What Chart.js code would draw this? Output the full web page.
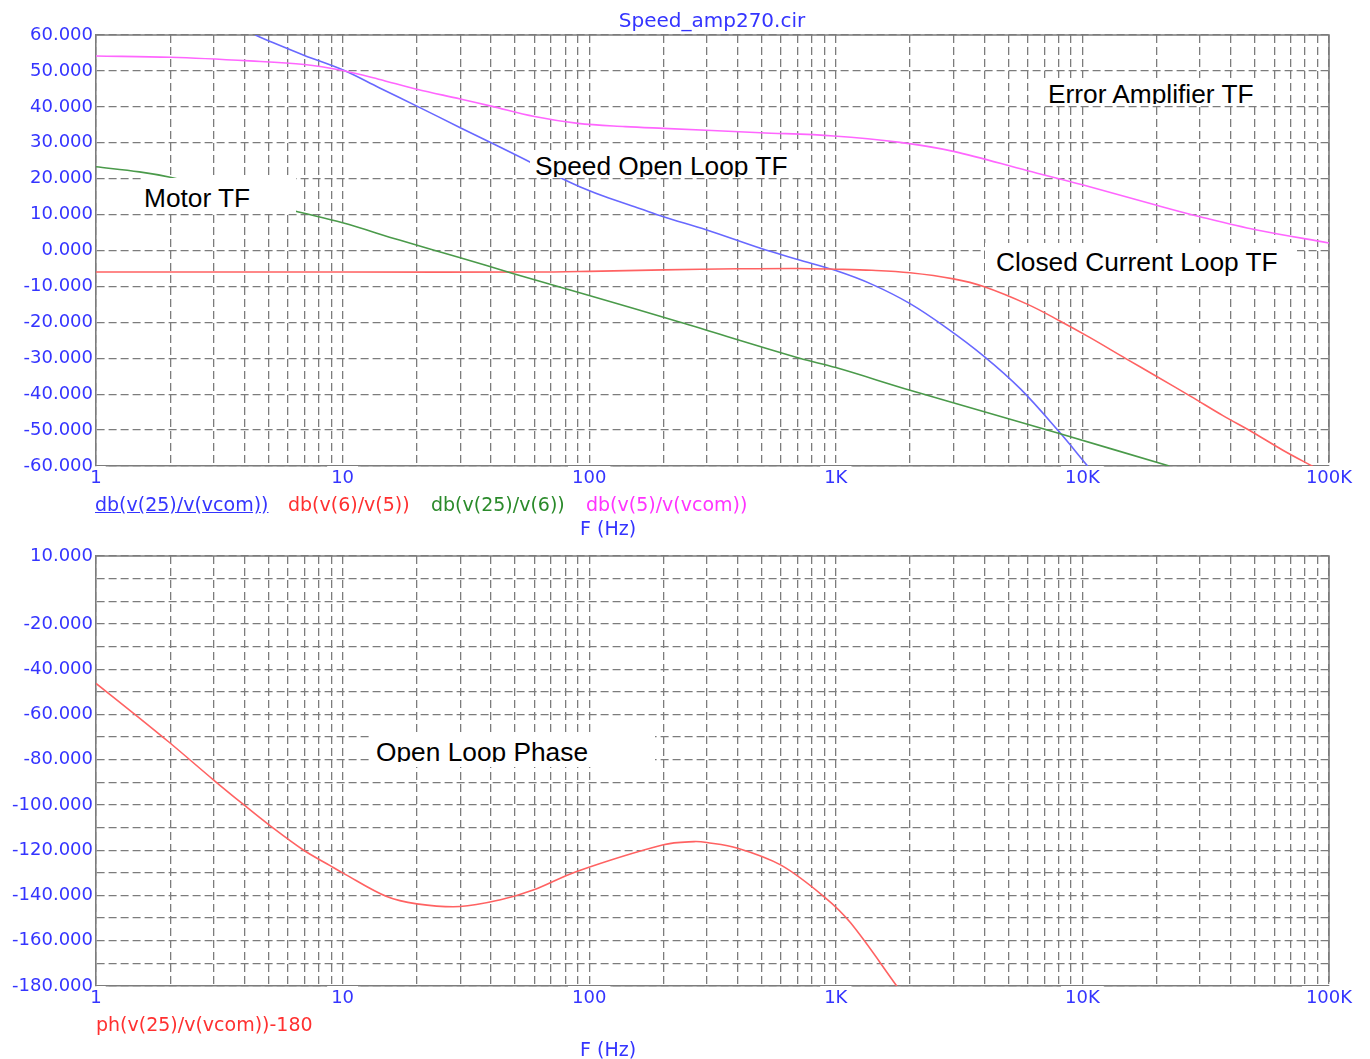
<!DOCTYPE html>
<html>
<head>
<meta charset="utf-8">
<title>Speed_amp270.cir</title>
<script src="https://cdn.jsdelivr.net/npm/chart.js@4.4.1/dist/chart.umd.min.js"></script>
<style>
  body { margin: 0; background: #fff; width: 1370px; height: 1059px; position: relative; overflow: hidden; font-family: "DejaVu Sans", sans-serif; }
  canvas { position: absolute; left: 0; }
  #magPlot { top: 0; }
  #phasePlot { top: 540px; }
  .lbl { position: absolute; font-size: 19px; line-height: 19px; white-space: nowrap; }
  .box { position: absolute; background: #fff; }
  .clip { position: absolute; overflow: hidden; }
  .clip span { position: absolute; font-family: "Liberation Sans", Arial, sans-serif; font-size: 26.3px; line-height: 26.3px; color: #000; white-space: nowrap; }
</style>
</head>
<body>
<canvas id="magPlot" width="1370" height="540"></canvas>
<canvas id="phasePlot" width="1370" height="519"></canvas>

<div class="lbl" style="left:712px;top:10px;font-size:20px;line-height:20px;color:#3434ff;transform:translateX(-50%)">Speed_amp270.cir</div>

<div class="lbl" style="left:95px;top:495px;color:#3434ff;text-decoration:underline">db(v(25)/v(vcom))</div>
<div class="lbl" style="left:288px;top:495px;color:#ff3030">db(v(6)/v(5))</div>
<div class="lbl" style="left:431px;top:495px;color:#2a8a2a">db(v(25)/v(6))</div>
<div class="lbl" style="left:586px;top:495px;color:#ff33ff">db(v(5)/v(vcom))</div>
<div class="lbl" style="left:580px;top:519px;color:#3434ff">F (Hz)</div>

<div class="lbl" style="left:96px;top:1015px;color:#ff3030">ph(v(25)/v(vcom))-180</div>
<div class="lbl" style="left:580px;top:1040px;color:#3434ff">F (Hz)</div>

<!-- white label boxes laid over the plots -->
<div class="box" style="left:142px;top:178px;width:154px;height:36px"></div>
<div class="clip" style="left:142px;top:178px;width:154px;height:36px"><span style="left:2px;top:6.5px">Motor TF</span></div>

<div class="box" style="left:530px;top:150px;width:270px;height:28px"></div>
<div class="clip" style="left:530px;top:150px;width:270px;height:26.5px"><span style="left:5px;top:3px">Speed Open Loop TF</span></div>

<div class="box" style="left:1043px;top:78px;width:224px;height:28px"></div>
<div class="clip" style="left:1043px;top:78px;width:224px;height:26px"><span style="left:5px;top:3.3px">Error Amplifier TF</span></div>

<div class="box" style="left:985px;top:243px;width:312px;height:41px"></div>
<div class="clip" style="left:985px;top:243px;width:312px;height:41px"><span style="left:11px;top:6.4px">Closed Current Loop TF</span></div>

<div class="box" style="left:370px;top:732px;width:285px;height:35px"></div>
<div class="clip" style="left:370px;top:732px;width:285px;height:29.5px"><span style="left:6px;top:7.4px">Open Loop Phase</span></div>

<script>
// x axis: decade ticks and their labels
const freqTicks = [1, 10, 100, 1000, 10000, 100000];
const freqTickLabels = ['1', '10', '100', '1K', '10K', '100K'];

// db(v(25)/v(vcom)) - speed open loop
const freqLoop = [4.42, 5, 7, 10, 14, 20, 30, 40, 58, 76, 92, 120, 160, 200, 300, 495, 700, 1000, 1410, 2000, 2820, 3980, 5620, 7940, 10500];
const dbLoop = [60, 58.4, 54.3, 50.3, 45.4, 40.2, 34.2, 30.0, 24.5, 20.3, 17.7, 14.6, 11.7, 9.4, 5.7, 0.6, -2.5, -5.6, -9.5, -14.8, -21.6, -29.4, -38.6, -50.0, -60];

// db(v(6)/v(5)) - closed current loop
const freqCur = [1, 10, 60, 100, 200, 400, 700, 1000, 1400, 2000, 3000, 4000, 6000, 8000, 10700, 15000, 19700, 27500, 37000, 49000, 65000, 87000];
const dbCur = [-6.0, -6.0, -6.0, -5.8, -5.4, -5.1, -5.0, -5.2, -5.5, -6.2, -7.9, -10.1, -15.0, -19.4, -24.2, -30.1, -34.8, -40.6, -45.9, -50.6, -55.6, -60.3];

// db(v(25)/v(6)) - motor
const freqMot = [1, 1.5, 2, 3, 5, 6.4, 10, 17, 30, 49, 100, 234, 713, 1000, 2000, 4000, 8000, 22500];
const dbMot = [23.3, 21.9, 20.4, 17.4, 13.0, 11.0, 7.7, 2.9, -2.0, -6.4, -12.5, -20.0, -30.0, -32.6, -38.9, -44.9, -50.9, -60.0];

// db(v(5)/v(vcom)) - error amplifier
const freqErr = [1, 2, 4.2, 7, 10, 14, 20, 30, 40, 60, 90, 140, 200, 495, 980, 1820, 3000, 6000, 10000, 20000, 30000, 51000, 100000];
const dbErr = [54.15, 53.8, 52.8, 51.8, 50.1, 47.7, 44.9, 42.2, 40.2, 37.3, 35.4, 34.5, 34.0, 32.8, 31.9, 30.1, 27.6, 22.2, 18.3, 12.6, 9.4, 5.7, 2.1];

// ph(v(25)/v(vcom))-180
const freqPh = [1, 1.42, 1.98, 3, 3.96, 5, 6.93, 8.9, 10, 15.1, 20, 30, 43.7, 59.7, 89, 200, 266, 300, 400, 597, 895, 1150, 1780];
const degPh = [-46.3, -59.5, -72.3, -89.0, -99.8, -108.6, -119.9, -126.8, -130.0, -140.5, -143.7, -144.9, -141.9, -137.5, -129.4, -117.6, -116.2, -116.6, -119.1, -126.5, -140.5, -152.2, -180.5];

const tickBlue = '#3434ff';
const gridGray = '#7c7c7c';
const tickFont = { family: 'DejaVu Sans', size: 18 };

// grid lines at 1..9 of every decade
const gridFreqs = [];
freqTicks.slice(0, -1).forEach(d => {
  for (let m = 1; m <= 9; m++) gridFreqs.push(d * m);
});
gridFreqs.push(freqTicks[freqTicks.length - 1]);

function pts(xs, ys) {
  return xs.map((x, i) => ({ x: x, y: ys[i] }));
}

function trace(xs, ys, color) {
  return {
    data: pts(xs, ys),
    borderColor: color,
    borderWidth: 1.6,
    pointRadius: 0,
    fill: false,
    tension: 0.35
  };
}

function freqAxis() {
  return {
    type: 'logarithmic',
    min: 1,
    max: 100000,
    offset: false,
    afterBuildTicks: s => { s.ticks = gridFreqs.map(v => ({ value: v })); },
    afterFit: s => { s.height = 30; },
    grid: { color: gridGray, lineWidth: 1.3, drawTicks: false },
    border: { display: true, color: gridGray, width: 1.6, dash: [8, 4] },
    ticks: {
      autoSkip: false,
      maxRotation: 0,
      padding: 2,
      font: tickFont,
      color: tickBlue,
      callback: v => {
        const i = freqTicks.indexOf(v);
        return i < 0 ? '' : freqTickLabels[i];
      },
      showLabelBackdrop: true,
      backdropColor: c => freqTicks.includes(c.tick.value) ? '#ffffff' : 'rgba(0,0,0,0)',
      backdropPadding: { top: 5, bottom: 0, left: 4, right: 4 }
    }
  };
}

function valueAxis(min, max, labelFn) {
  return {
    min: min,
    max: max,
    afterFit: s => { s.width = 96; },
    grid: { color: gridGray, lineWidth: 1.3, drawTicks: false },
    border: { display: true, color: gridGray, width: 1.6, dash: [8, 4] },
    ticks: { stepSize: 10, autoSkip: false, padding: 3, font: tickFont, color: tickBlue, callback: labelFn }
  };
}

// top and right edges of the plot box
const framePlugin = {
  id: 'frame',
  beforeDatasetsDraw(chart) {
    const ctx = chart.ctx;
    const a = chart.chartArea;
    ctx.save();
    ctx.strokeStyle = gridGray;
    ctx.lineWidth = 1.6;
    ctx.beginPath();
    ctx.moveTo(a.left, a.top);
    ctx.lineTo(a.right, a.top);
    ctx.lineTo(a.right, a.bottom - 4);
    ctx.stroke();
    ctx.restore();
  }
};

const common = {
  responsive: false,
  animation: false,
  devicePixelRatio: 1,
  parsing: false,
  plugins: { legend: { display: false }, tooltip: { enabled: false } }
};

new Chart(document.getElementById('magPlot'), {
  type: 'line',
  data: {
    datasets: [
      trace(freqMot, dbMot, '#4a9a4a'),
      trace(freqCur, dbCur, '#ff6262'),
      trace(freqErr, dbErr, '#ff66ff'),
      trace(freqLoop, dbLoop, '#6868ff')
    ]
  },
  options: Object.assign({}, common, {
    layout: { padding: { left: 0, top: 35, right: 41, bottom: 44 } },
    scales: {
      x: freqAxis(),
      y: valueAxis(-60, 60, v => v.toFixed(3))
    }
  }),
  plugins: [framePlugin]
});

new Chart(document.getElementById('phasePlot'), {
  type: 'line',
  data: {
    datasets: [trace(freqPh, degPh, '#ff6262')]
  },
  options: Object.assign({}, common, {
    layout: { padding: { left: 0, top: 16, right: 41, bottom: 43 } },
    scales: {
      x: freqAxis(),
      y: valueAxis(-180, 10, v => (v === 10 || (v !== 0 && v % 20 === 0)) ? v.toFixed(3) : '')
    }
  }),
  plugins: [framePlugin]
});
</script>
</body>
</html>
